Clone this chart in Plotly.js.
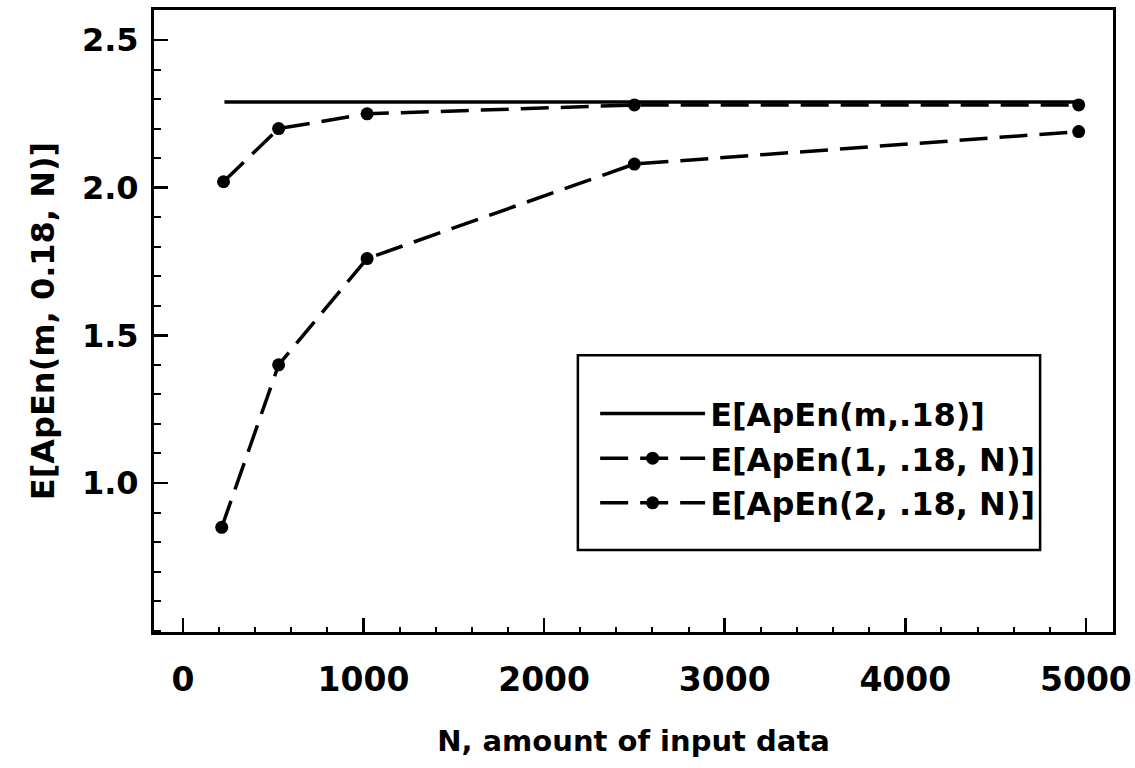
<!DOCTYPE html>
<html>
<head>
<meta charset="utf-8">
<script src="https://cdn.plot.ly/plotly-3.0.1.min.js"></script>
<style>
  html, body { margin: 0; padding: 0; background: #fff; }
  #chart { width: 1135px; height: 768px; }
</style>
</head>
<body>
<div id="chart"></div>
<script>
// Expected approximate entropy versus record length N (r = 0.18)
const limitN = [230, 4960];
const limitApEn = [2.29, 2.29];

const nM1 = [225, 530, 1020, 2500, 4960];
const apEnM1 = [2.02, 2.20, 2.25, 2.28, 2.28];

const nM2 = [215, 530, 1020, 2500, 4960];
const apEnM2 = [0.85, 1.40, 1.76, 2.08, 2.19];

const seriesNames = [
  "E[ApEn(m,.18)]",
  "E[ApEn(1, .18, N)]",
  "E[ApEn(2, .18, N)]"
];

const yTickVals = [1.0, 1.5, 2.0, 2.5];
const xTickVals = [0, 1000, 2000, 3000, 4000, 5000];

const font = "DejaVu Sans, Arial, sans-serif";
const ink = "#000";

const traces = [
  {
    x: limitN, y: limitApEn, name: seriesNames[0],
    mode: "lines", type: "scatter",
    line: { color: ink, width: 3.5 }
  },
  {
    x: nM1, y: apEnM1, name: seriesNames[1],
    mode: "lines+markers", type: "scatter",
    line: { color: ink, width: 3.5, dash: "28px,12px" },
    marker: { color: ink, size: 13, symbol: "circle" }
  },
  {
    x: nM2, y: apEnM2, name: seriesNames[2],
    mode: "lines+markers", type: "scatter",
    line: { color: ink, width: 3.5, dash: "28px,12px" },
    marker: { color: ink, size: 13, symbol: "circle" }
  }
];

const layout = {
  width: 1135, height: 768,
  paper_bgcolor: "#fff", plot_bgcolor: "#fff",
  margin: { l: 154, r: 22, t: 10, b: 136 },
  font: { family: font, color: ink },
  showlegend: true,
  legend: {
    x: 0.46, y: 0.395, xanchor: "left", yanchor: "top",
    bgcolor: "rgba(0,0,0,0)", borderwidth: 0,
    font: { family: font, size: 32, weight: "bold", color: ink },
    itemwidth: 105
  },
  // frame around the key
  shapes: [
    {
      type: "rect", xref: "paper", yref: "paper",
      x0: 0.442, x1: 0.924, y0: 0.132, y1: 0.445,
      line: { color: ink, width: 2.5 }, fillcolor: "#fff", layer: "below"
    }
  ],
  xaxis: {
    range: [-160, 5150],
    tickvals: xTickVals,
    ticktext: xTickVals.map(String),
    ticks: "inside", ticklen: 14, tickwidth: 2.5, tickcolor: ink,
    minor: { dtick: 200, tick0: 0, ticks: "inside", ticklen: 5, tickwidth: 2, tickcolor: ink },
    showline: true, linecolor: ink, linewidth: 3, mirror: true,
    showgrid: false, zeroline: false,
    tickfont: { family: font, size: 33, weight: "bold", color: ink },
    ticklabelstandoff: 16,
    title: {
      text: "N, amount of input data",
      font: { family: font, size: 29, weight: "bold", color: ink },
      standoff: 34
    }
  },
  yaxis: {
    range: [0.4954, 2.6016],
    tickvals: yTickVals,
    ticktext: yTickVals.map(v => v.toFixed(1)),
    ticks: "inside", ticklen: 14, tickwidth: 2.5, tickcolor: ink,
    minor: { dtick: 0.1, tick0: 0, ticks: "inside", ticklen: 7, tickwidth: 2, tickcolor: ink },
    showline: true, linecolor: ink, linewidth: 3, mirror: true,
    showgrid: false, zeroline: false,
    tickfont: { family: font, size: 32, weight: "bold", color: ink },
    ticklabelstandoff: 6,
    title: {
      text: "E[ApEn(m, 0.18, N)]",
      font: { family: font, size: 32, weight: "bold", color: ink },
      standoff: 18
    }
  }
};

Plotly.newPlot("chart", traces, layout, { displayModeBar: false, staticPlot: true });
</script>
</body>
</html>
